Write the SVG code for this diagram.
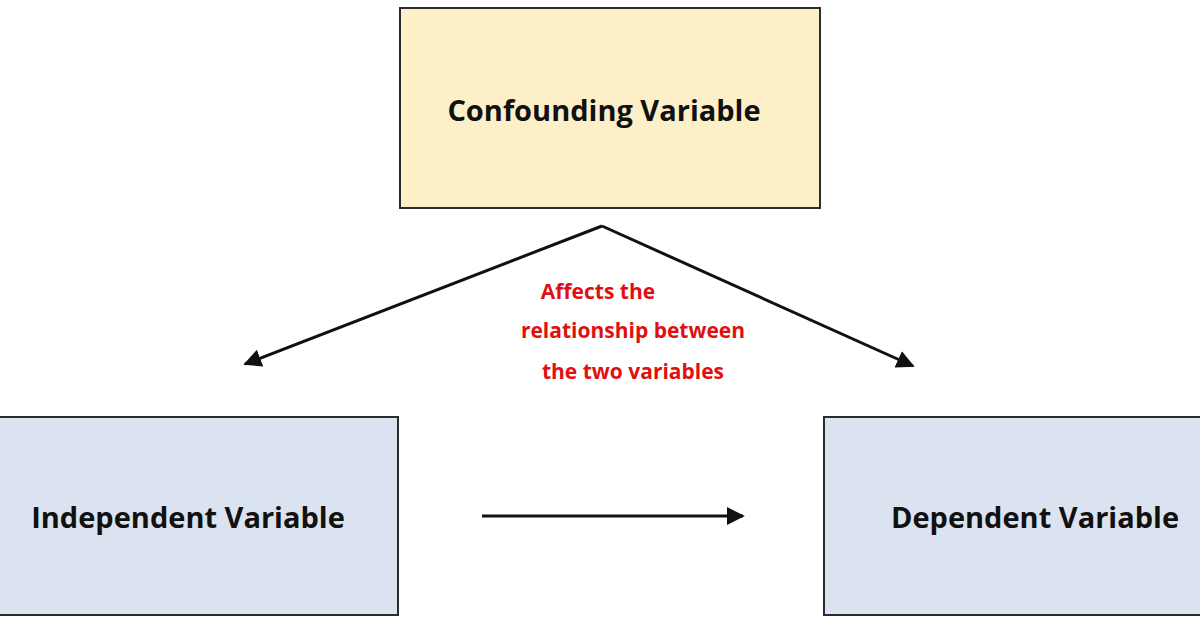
<svg xmlns="http://www.w3.org/2000/svg" width="1200" height="628" viewBox="0 0 1200 628">
<style>
.box{stroke:#2b2b2b;stroke-width:2}
.t{font-family:"Open Sans","Liberation Sans",sans-serif;font-weight:bold;font-size:29px;fill:#111;text-anchor:middle}
.r{font-family:"Open Sans","Liberation Sans",sans-serif;font-weight:bold;font-size:21px;fill:#e01010;text-anchor:middle}
.c{stroke:#111;stroke-width:3;fill:none}
</style>
<defs><marker id="a" viewBox="0 0 10 10" refX="9" refY="5" markerWidth="6" markerHeight="6" orient="auto"><path d="M0,0L10,5L0,10z" fill="#111"/></marker></defs>
<rect width="1200" height="628" fill="#fff"/>
<g id="confounding"><rect class="box" x="400" y="8" width="420" height="200" fill="#fdf0c8"/><text class="t" x="604" y="121">Confounding Variable</text></g>
<g id="independent"><rect class="box" x="-2" y="417" width="400" height="198" fill="#dce3f0"/><text class="t" x="188" y="528">Independent Variable</text></g>
<g id="dependent"><rect class="box" x="824" y="417" width="380" height="198" fill="#dce3f0"/><text class="t" x="1035" y="528">Dependent Variable</text></g>
<g id="connectors">
<path class="c" d="M602,226L245,364" marker-end="url(#a)"/>
<path class="c" d="M602,226L913,366" marker-end="url(#a)"/>
<path class="c" d="M482,516L743,516" marker-end="url(#a)"/>
</g>
<g id="label"><text class="r" x="598" y="299">Affects the</text><text class="r" x="633" y="338">relationship between</text><text class="r" x="633" y="379">the two variables</text></g>
</svg>
